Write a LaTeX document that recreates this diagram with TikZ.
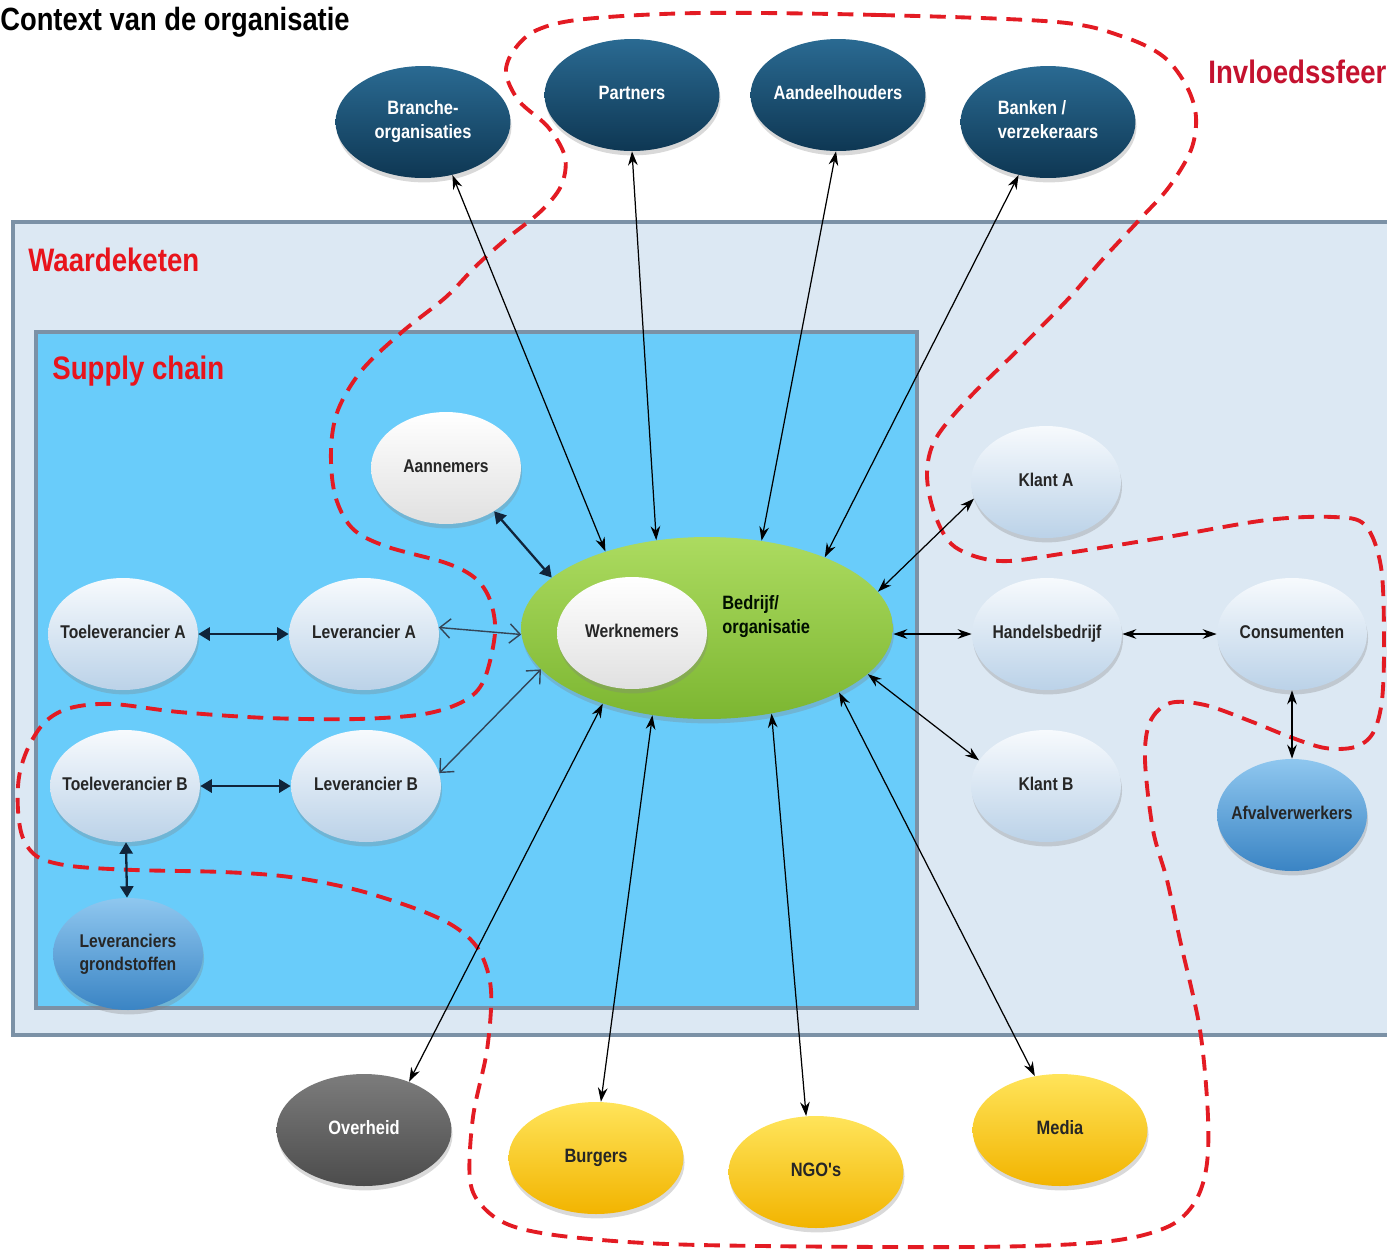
\documentclass[tikz,border=0pt]{standalone}
\usepackage{fontspec}
\newfontfamily\narrowsans{Liberation Sans}[FakeStretch=0.85]
\usetikzlibrary{shapes.geometric,arrows.meta,shadows}

\definecolor{waardefill}{HTML}{DCE8F3}
\definecolor{supplyfill}{HTML}{69CCFA}
\definecolor{framecol}{HTML}{7B91A6}
\definecolor{redlab}{HTML}{E8141C}
\definecolor{invred}{HTML}{C4122F}
\definecolor{dashred}{HTML}{E31B23}
\definecolor{navytop}{HTML}{2A6A92}
\definecolor{navybot}{HTML}{0E3753}
\definecolor{paletop}{HTML}{F7FAFD}
\definecolor{palebot}{HTML}{BBD2E8}
\definecolor{greentop}{HTML}{ACDB60}
\definecolor{greenbot}{HTML}{7CB631}
\definecolor{bluetop}{HTML}{8FC7EF}
\definecolor{bluebot}{HTML}{3A84C4}
\definecolor{graytop}{HTML}{7C7C7C}
\definecolor{graybot}{HTML}{4C4C4C}
\definecolor{yeltop}{HTML}{FFE45A}
\definecolor{yelbot}{HTML}{F2B400}
\definecolor{arrowblue}{HTML}{10243A}

\newcommand{\ovaltext}[2][c]{\makebox[0pt]{\begin{tabular}{@{}#1@{}}#2\end{tabular}}}

\begin{document}
\begin{tikzpicture}[x=0.02cm, y=-0.02cm,
    oval/.style={ellipse, inner sep=0pt, minimum width=3cm, minimum height=2.24cm,
      font=\narrowsans\bfseries\fontsize{10.5}{13}\selectfont, text=black!85,
      drop shadow={shadow xshift=0.6pt, shadow yshift=-2.5pt, opacity=.3}},
    bigoval/.style={oval, minimum width=3.5cm, font=\narrowsans\bfseries\fontsize{11}{13.5}\selectfont},
    navy/.style={bigoval, top color=navytop, bottom color=navybot, text=white},
    pale/.style={oval, top color=paletop, bottom color=palebot},
    whiteoval/.style={oval, top color=white, bottom color=black!12},
    blueoval/.style={oval, top color=bluetop, bottom color=bluebot},
    grayoval/.style={bigoval, top color=graytop, bottom color=graybot, text=white},
    yellowoval/.style={bigoval, top color=yeltop, bottom color=yelbot},
    redlabel/.style={anchor=west, inner sep=0pt, text=redlab,
      font=\narrowsans\bfseries\fontsize{18.5}{22}\selectfont},
    frame/.style={draw=framecol, line width=2pt},
    link/.style={{Stealth[length=8pt,width=5.5pt]}-{Stealth[length=8pt,width=5.5pt]}, line width=0.7pt},
    boldlink/.style={{Triangle[length=6.5pt,width=7.5pt]}-{Triangle[length=6.5pt,width=7.5pt]}, line width=1.3pt, arrowblue},
    openlink/.style={{Straight Barb[length=6pt,width=11pt]}-{Straight Barb[length=6pt,width=11pt]}, line width=0.8pt, arrowblue!85},
    invloed/.style={draw=dashred, line width=2.2pt, dash pattern=on 9pt off 5.5pt}]
  \useasboundingbox (0,0) rectangle (1387,1249);

  \draw[frame, fill=waardefill] (13,222) rectangle (1400,1035);
  \draw[frame, fill=supplyfill] (36,332) rectangle (917,1008);

  \node[anchor=west, inner sep=0pt, font=\narrowsans\bfseries\fontsize{18.3}{21}\selectfont] (titel) at (0,22) {Context van de organisatie};
  \node[redlabel] (waardeketen) at (28,260) {Waardeketen};
  \node[redlabel] (supply) at (52,371) {Supply chain};
  \node[redlabel, text=invred] (invloedssfeer) at (1208,72) {Invloedssfeer};

  \draw[invloed] plot[smooth cycle, tension=0.55] coordinates {
    (700,13) (879,15) (1057,22) (1124,37) (1164,57) (1187,87) (1196,117) (1191,150)
    (1169,187) (1142,217) (1102,260) (1070,297) (1020,348) (967,400) (935,440) (927,475)
    (935,515) (955,547) (1000,561) (1067,553) (1167,537) (1267,520) (1333,517) (1365,525)
    (1381,567) (1384,640) (1382,700) (1373,733) (1355,747) (1325,748) (1290,737) (1250,721)
    (1205,705) (1170,703) (1150,722) (1145,760) (1153,830) (1167,880) (1180,940) (1200,1030)
    (1208,1117) (1206,1170) (1193,1205) (1165,1228) (1102,1242) (968,1247) (700,1245)
    (580,1238) (515,1227) (484,1208) (470,1180) (473,1117) (487,1050) (491,990) (480,952)
    (458,929) (422,911) (357,890) (290,877) (223,872) (134,870) (71,866) (38,857) (23,838)
    (18,810) (19,777) (28,748) (45,722) (70,708) (112,704) (179,712) (268,718) (357,719)
    (424,714) (464,701) (484,680) (495,633) (490,600) (475,578) (446,563) (385,546)
    (352,528) (335,495) (331,450) (338,410) (362,370) (402,332) (446,297) (475,267)
    (505,240) (540,212) (561,186) (565,157) (548,127) (519,101) (506,73) (514,50)
    (537,30) (585,19)};

  \node[navy] (branche) at (423,122) {\ovaltext{Branche-\\organisaties}};
  \node[navy] (partners) at (632,95) {\ovaltext{Partners}};
  \node[navy] (aandeelhouders) at (838,95) {\ovaltext{Aandeelhouders}};
  \node[navy] (banken) at (1048,122) {\ovaltext[l]{Banken /\\verzekeraars}};

  \node[oval, minimum width=7.44cm, minimum height=3.64cm, top color=greentop, bottom color=greenbot] (bedrijf) at (707,628) {};
  \node[whiteoval] (werknemers) at (632,633) {\ovaltext{Werknemers}};
  \node[anchor=west, inner sep=0pt, text=black!85!green!40!black, font=\narrowsans\bfseries\fontsize{11}{13.5}\selectfont] (bedrijftekst) at (722,617) {\begin{tabular}{@{}l@{}}Bedrijf/\\organisatie\end{tabular}};

  \node[whiteoval] (aannemers) at (446,468) {\ovaltext{Aannemers}};
  \node[pale] (toelevA) at (123,634) {\ovaltext{Toeleverancier A}};
  \node[pale] (levA) at (364,634) {\ovaltext{Leverancier A}};
  \node[pale] (toelevB) at (125,786) {\ovaltext{Toeleverancier B}};
  \node[pale] (levB) at (366,786) {\ovaltext{Leverancier B}};
  \node[blueoval] (grondstoffen) at (128,954) {\ovaltext[l]{Leveranciers\\grondstoffen}};

  \node[pale] (klantA) at (1046,482) {\ovaltext{Klant A}};
  \node[pale] (handel) at (1047,634) {\ovaltext{Handelsbedrijf}};
  \node[pale] (klantB) at (1046,786) {\ovaltext{Klant B}};
  \node[pale] (consumenten) at (1292,634) {\ovaltext{Consumenten}};
  \node[blueoval] (afval) at (1292,815) {\ovaltext{Afvalverwerkers}};

  \node[grayoval] (overheid) at (364,1130) {\ovaltext{Overheid}};
  \node[yellowoval] (burgers) at (596,1158) {\ovaltext{Burgers}};
  \node[yellowoval] (ngo) at (816,1172) {\ovaltext{NGO's}};
  \node[yellowoval] (media) at (1060,1130) {\ovaltext{Media}};

  \draw[link] (branche.-61) -- (bedrijf.143);
  \draw[link] (partners.-90) -- (bedrijf.120);
  \draw[link] (aandeelhouders.-92) -- (bedrijf.58);
  \draw[link] (banken.-119) -- (bedrijf.31);
  \draw[link] (klantA.193) -- (bedrijf.12);
  \draw[link] (handel.west) -- (handel.west -| bedrijf.east);
  \draw[link] (klantB.159) -- (bedrijf.-16);
  \draw[link] (overheid.47) -- (bedrijf.216);
  \draw[link] (burgers.85) -- (bedrijf.238);
  \draw[link] (ngo.100) -- (bedrijf.307);
  \draw[link] (media.115) -- (bedrijf.334);
  \draw[link] (handel) -- (consumenten);
  \draw[link] (consumenten) -- (afval);

  \draw[boldlink] (aannemers.-42) -- (bedrijf.162);
  \draw[boldlink] (toelevA) -- (levA);
  \draw[boldlink] (toelevB) -- (levB);
  \draw[boldlink] (toelevB) -- (grondstoffen);
  \draw[openlink] (levA.5) -- (bedrijf.182);
  \draw[openlink] (levB.10) -- (bedrijf.194);
\end{tikzpicture}
\end{document}
